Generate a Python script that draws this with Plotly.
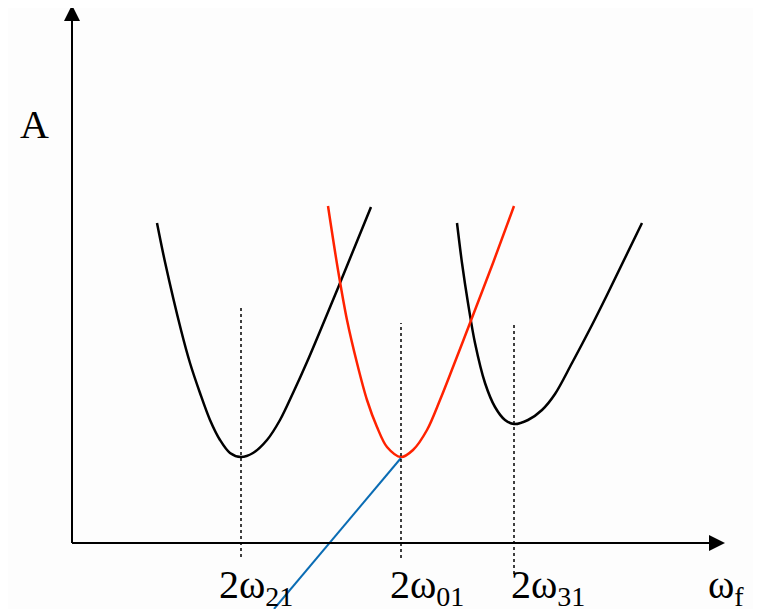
import plotly.graph_objects as go

# Resonance frequencies (x positions, chart units: origin at axes crossing)
omega_21 = 169
omega_01 = 329
omega_31 = 442

# Curve samples (omega, A)
left_w = [85, 93, 109, 118, 128, 138, 148, 158, 169, 181, 195, 208, 221, 235, 268, 299]
left_A = [320, 281, 213, 180, 150, 123, 103, 90, 86, 90, 103, 123, 150, 181, 260, 336]

red_w = [256, 266, 275, 285, 295, 305, 315, 329, 341, 355, 368, 381, 398, 421, 442]
red_A = [337, 273, 223, 180, 143, 116, 96, 86, 93, 113, 143, 176, 220, 280, 337]

right_w = [385, 390, 396, 403, 413, 423, 433, 442, 456, 470, 483, 500, 520, 535, 570]
right_A = [320, 280, 240, 200, 160, 136, 123, 119, 123, 133, 149, 180, 218, 248, 320]

blue_w = [329, 202]
blue_A = [85, -66]

# Dotted marker lines: (omega, top A, bottom A)
dot_w = [omega_21, omega_01, omega_31]
dot_top = [236, 220, 220]
dot_bot = [-14, -15, -31]

tick_labels = ["2ω<sub>21</sub>", "2ω<sub>01</sub>", "2ω<sub>31</sub>"]
tick_label_x = [145, 316, 437]
x_label = "ω<sub>f</sub>"
y_label = "A"

# axis extents (page body has an 8px margin, so the figure is 8px smaller)
X_MIN, X_MAX = -64, 689
Y_MIN, Y_MAX = -66, 535
X_TIP = 653
Y_TIP = 538

fig = go.Figure()

for xs, ys in [(left_w, left_A), (right_w, right_A)]:
    fig.add_trace(go.Scatter(x=xs, y=ys, mode="lines",
                             line=dict(color="black", width=2.5, shape="spline", smoothing=0.9),
                             hoverinfo="skip", showlegend=False))
fig.add_trace(go.Scatter(x=red_w, y=red_A, mode="lines",
                         line=dict(color="#ff2200", width=2.5, shape="spline", smoothing=0.9),
                         hoverinfo="skip", showlegend=False))
fig.add_trace(go.Scatter(x=blue_w, y=blue_A, mode="lines",
                         line=dict(color="#0a6cb4", width=2),
                         hoverinfo="skip", showlegend=False))

for w, t, b in zip(dot_w, dot_top, dot_bot):
    fig.add_trace(go.Scatter(x=[w, w], y=[b, t], mode="lines",
                             line=dict(color="black", width=1.5, dash="dot"),
                             hoverinfo="skip", showlegend=False))

shapes = [
    dict(type="line", x0=0, y0=0, x1=X_TIP - 14, y1=0, line=dict(color="black", width=2)),
    dict(type="line", x0=0, y0=0, x1=0, y1=Y_TIP - 14, line=dict(color="black", width=2)),
    dict(type="path", path=f"M {X_TIP-16},8 L {X_TIP},0 L {X_TIP-16},-8 Z",
         fillcolor="black", line=dict(width=0)),
    dict(type="path", path=f"M -8,{Y_TIP-16} L 0,{Y_TIP} L 8,{Y_TIP-16} Z",
         fillcolor="black", line=dict(width=0)),
]

font = dict(family="Liberation Serif, Times New Roman, serif", size=40, color="black")
annotations = []
for lbl, x in zip(tick_labels, tick_label_x):
    annotations.append(dict(x=x, y=-44, text=lbl, showarrow=False, xanchor="left",
                            yanchor="middle", font=font))
annotations.append(dict(x=634, y=-44, text=x_label, showarrow=False, xanchor="left",
                        yanchor="middle", font=font))
annotations.append(dict(x=-38, y=419, text=y_label, showarrow=False, xanchor="center",
                        yanchor="middle", font=font))

fig.update_layout(
    width=753, height=601,
    margin=dict(l=0, r=0, t=0, b=0),
    paper_bgcolor="#fdfdfd", plot_bgcolor="#fdfdfd",
    xaxis=dict(range=[X_MIN, X_MAX], visible=False, fixedrange=True),
    yaxis=dict(range=[Y_MIN, Y_MAX], visible=False, fixedrange=True),
    shapes=shapes, annotations=annotations, showlegend=False,
)

fig.write_html("out.html")
